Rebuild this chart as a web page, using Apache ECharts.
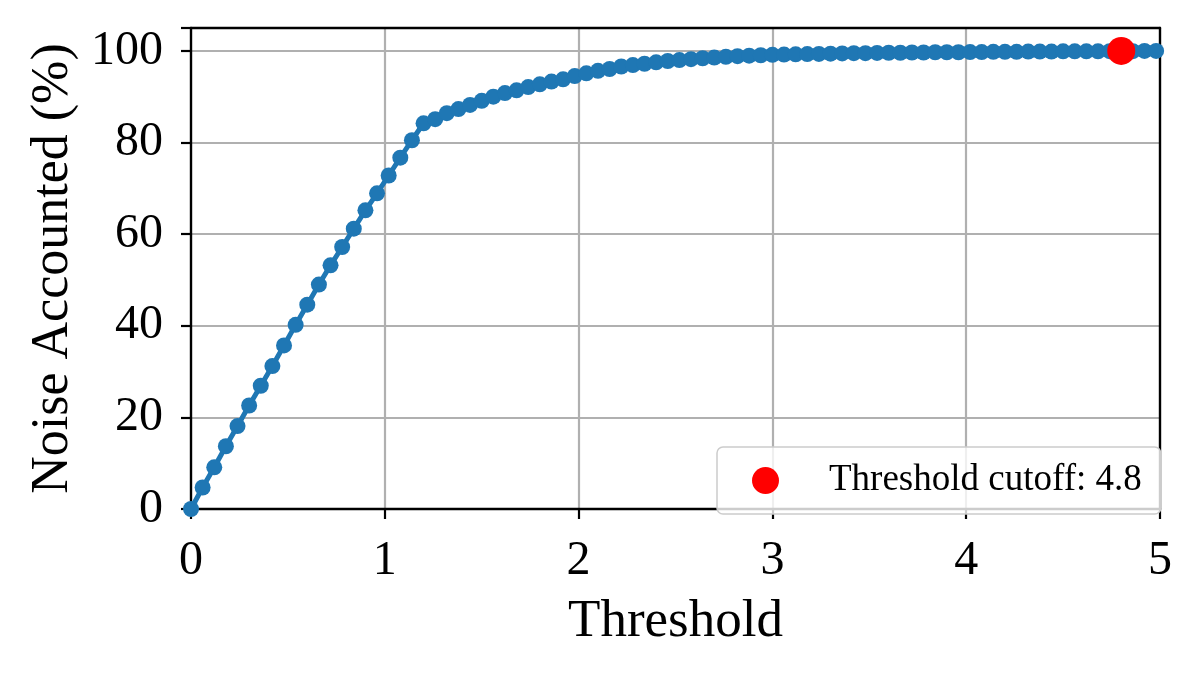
<!DOCTYPE html>
<html>
<head>
<meta charset="utf-8">
<script src="https://cdn.jsdelivr.net/npm/echarts@6/dist/echarts.min.js"></script>
<style>
html,body{margin:0;padding:0;background:#fff;}
#chart{width:1197px;height:674px;}
</style>
</head>
<body>
<div id="chart"></div>
<script>
// Threshold sample positions (x)
var thresholds = [0.00,0.06,0.12,0.18,0.24,0.30,0.36,0.42,0.48,0.54,
  0.60,0.66,0.72,0.78,0.84,0.90,0.96,1.02,1.08,1.14,
  1.20,1.26,1.32,1.38,1.44,1.50,1.56,1.62,1.68,1.74,
  1.80,1.86,1.92,1.98,2.04,2.10,2.16,2.22,2.28,2.34,
  2.40,2.46,2.52,2.58,2.64,2.70,2.76,2.82,2.88,2.94,
  3.00,3.06,3.12,3.18,3.24,3.30,3.36,3.42,3.48,3.54,
  3.60,3.66,3.72,3.78,3.84,3.90,3.96,4.02,4.08,4.14,
  4.20,4.26,4.32,4.38,4.44,4.50,4.56,4.62,4.68,4.74,
  4.80,4.86,4.92,4.98];
// Noise accounted (%)
var noiseAccounted = [0.0,4.7,9.1,13.7,18.1,22.6,26.9,31.2,35.7,40.2,
  44.6,49.0,53.2,57.2,61.2,65.2,68.9,72.8,76.7,80.5,
  84.2,85.1,86.4,87.3,88.2,89.1,90.0,90.8,91.4,92.1,
  92.7,93.3,93.8,94.5,95.1,95.65,96.05,96.6,96.9,97.2,
  97.5,97.8,98.0,98.2,98.4,98.55,98.7,98.85,98.95,99.05,
  99.15,99.2,99.25,99.3,99.35,99.4,99.45,99.5,99.5,99.55,
  99.6,99.6,99.65,99.65,99.7,99.7,99.7,99.75,99.75,99.8,
  99.8,99.8,99.85,99.85,99.85,99.9,99.9,99.9,99.9,99.95,
  99.95,99.95,100.0,100.0];
var cutoffX = [4.8];
var cutoffY = [100.0];
var cutoffLabel = 'Threshold cutoff: 4.8';
var xTicks = [0,1,2,3,4,5];
var yTicks = [0,20,40,60,80,100];

var FONT = '"Liberation Serif", "DejaVu Serif", serif';

var curve = thresholds.map(function(x, i){ return [x, noiseAccounted[i]]; });
var cutoff = cutoffX.map(function(x, i){ return [x, cutoffY[i]]; });

var spine = {show:true, onZero:false, lineStyle:{color:'#000', width:2.4}};

var chart = echarts.init(document.getElementById('chart'), null, {renderer:'canvas'});
chart.setOption({
  animation: false,
  backgroundColor: '#ffffff',
  grid: {left:191, right:37, top:28, bottom:165, show:false, containLabel:false},
  xAxis: [{
    type:'value', min:0, max:5, interval:1, position:'bottom',
    name:'Threshold', nameLocation:'middle', nameGap:87,
    nameTextStyle:{fontFamily:FONT, fontSize:53, color:'#000'},
    axisLine:spine,
    axisTick:{show:true, inside:false, length:10, lineStyle:{color:'#000', width:2.2}},
    axisLabel:{fontFamily:FONT, fontSize:48, color:'#000', margin:28,
      formatter:function(v){ return xTicks.indexOf(v) >= 0 ? String(v) : ''; }},
    splitLine:{show:true, showMinLine:false, showMaxLine:false, lineStyle:{color:'#b0b0b0', width:2.2}}
  }, {
    type:'value', min:0, max:5, position:'top',
    axisLine:spine, axisTick:{show:false}, axisLabel:{show:false}, splitLine:{show:false}
  }],
  yAxis: [{
    type:'value', min:0, max:105, interval:20, position:'left',
    name:'Noise Accounted (%)', nameLocation:'middle', nameGap:112,
    nameTextStyle:{fontFamily:FONT, fontSize:52, color:'#000'},
    axisLine:spine,
    axisTick:{show:true, inside:false, length:10, lineStyle:{color:'#000', width:2.2}},
    axisLabel:{fontFamily:FONT, fontSize:48, color:'#000', margin:28,
      formatter:function(v){ return yTicks.indexOf(v) >= 0 ? String(v) : ''; }},
    splitLine:{show:true, showMinLine:false, showMaxLine:false, lineStyle:{color:'#b0b0b0', width:2.2}}
  }, {
    type:'value', min:0, max:105, position:'right',
    axisLine:spine, axisTick:{show:false}, axisLabel:{show:false}, splitLine:{show:false}
  }],
  legend: {
    left:717, top:447, orient:'vertical',
    icon:'circle', itemWidth:27, itemHeight:27,
    padding:[15,19,15,35],
    backgroundColor:'rgba(255,255,255,0.8)', borderColor:'#cccccc', borderWidth:1.5, borderRadius:6,
    textStyle:{fontFamily:FONT, fontSize:37, color:'#000', padding:[0,0,0,45], lineHeight:30},
    data:[cutoffLabel],
    selectedMode:false
  },
  series: [
    {
      type:'line', data:curve, symbol:'circle', symbolSize:16, showAllSymbol:true,
      lineStyle:{color:'#1f77b4', width:5},
      itemStyle:{color:'#1f77b4', opacity:1, borderWidth:0},
      clip:true, z:2, silent:true
    },
    {
      type:'scatter', name:cutoffLabel, data:cutoff, symbol:'circle', symbolSize:28,
      itemStyle:{color:'#ff0000', opacity:1, borderWidth:0}, z:3, silent:true
    }
  ]
});
</script>
</body>
</html>
